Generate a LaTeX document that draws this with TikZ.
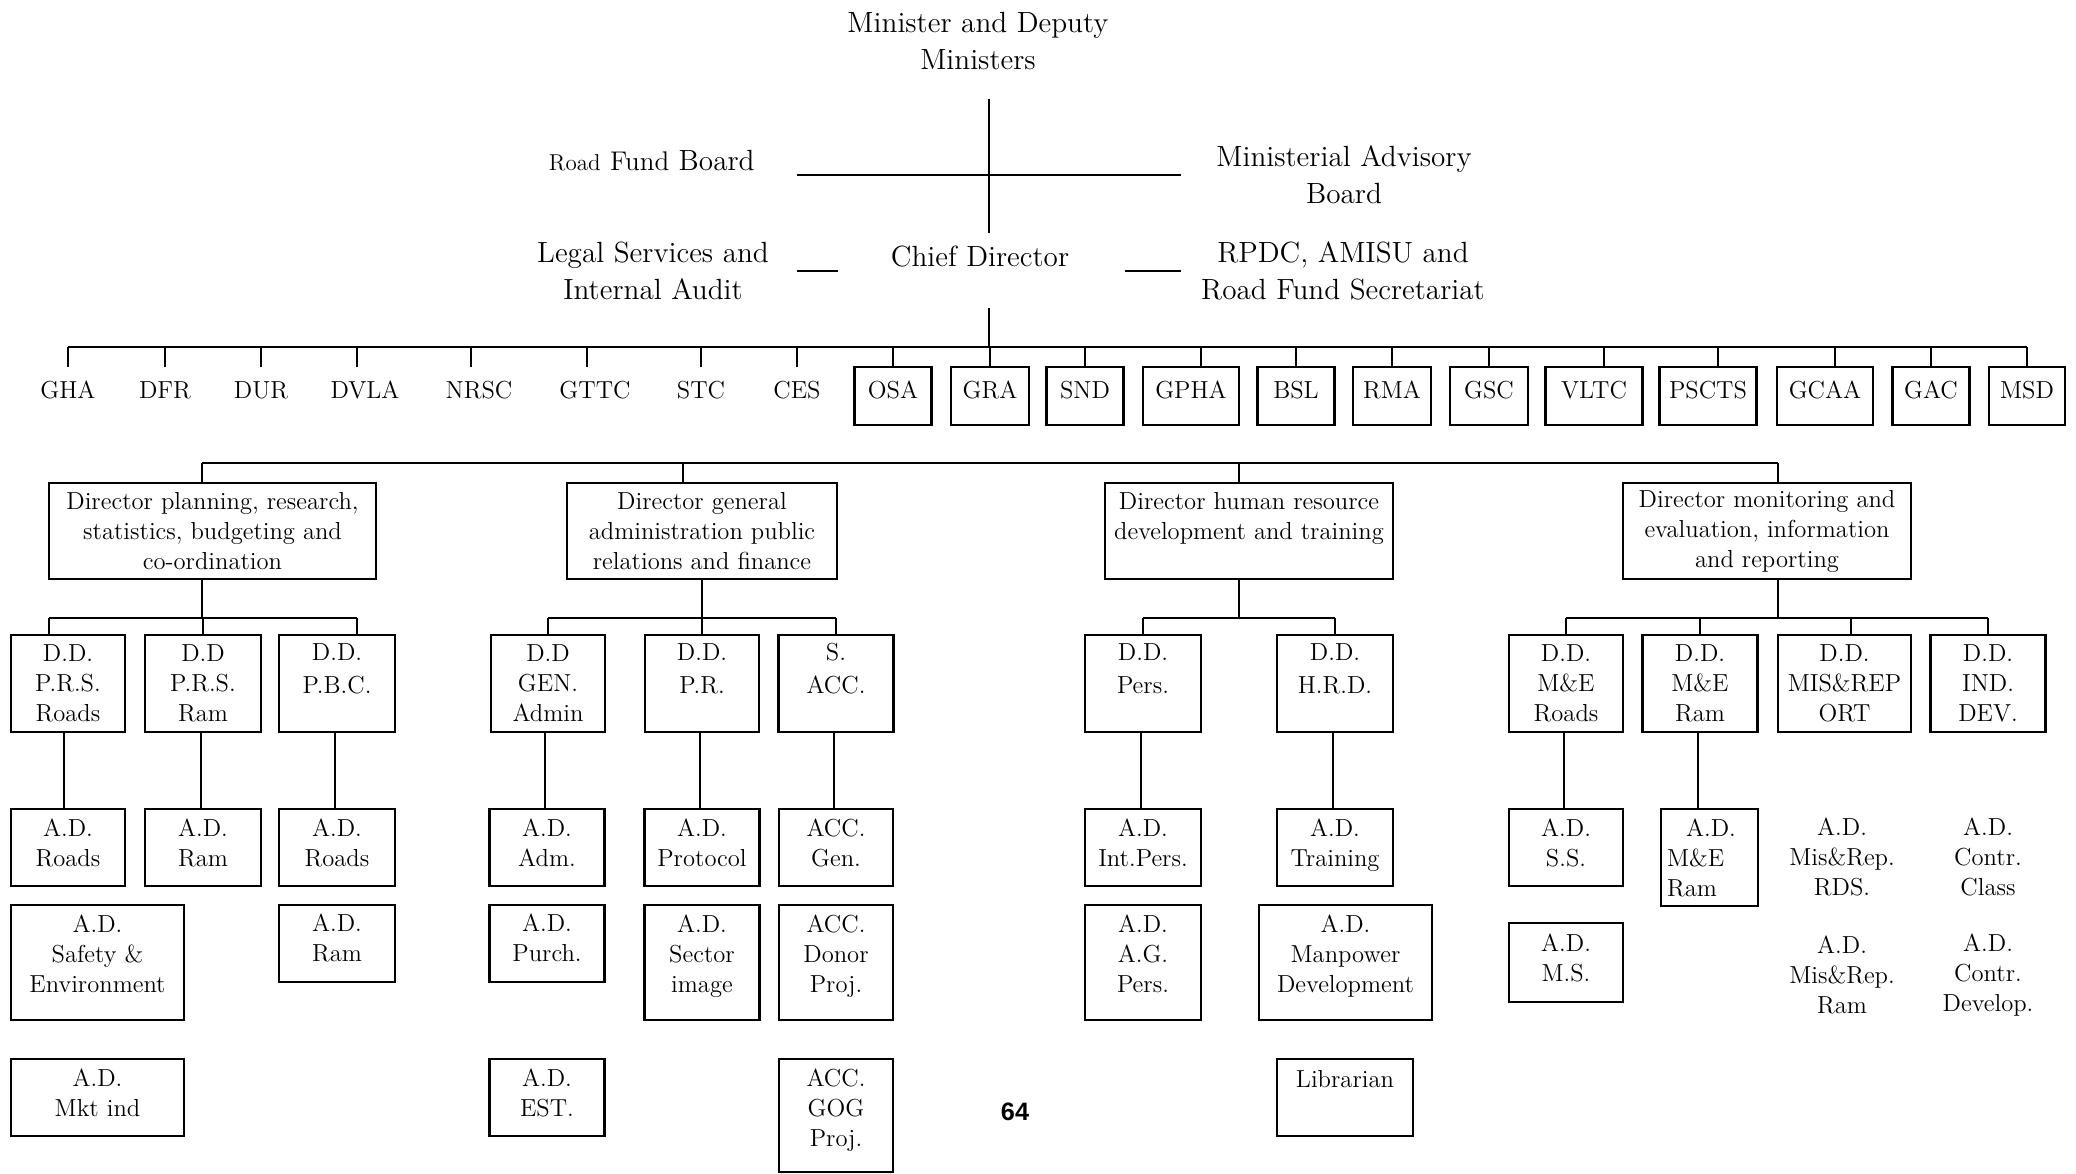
\documentclass[tikz,border=0pt]{standalone}
\usepackage{fontspec}
\newfontfamily\pgnumfont{Liberation Sans}
\begin{document}
\begin{tikzpicture}[x=0.5pt,y=-0.5pt,
  conn/.style={line width=1pt},
  bx/.style={draw, line width=1.05pt, inner sep=0pt, align=center, font=\fontsize{12.3}{15}\selectfont},
  lbl/.style={inner sep=0pt, align=center, font=\fontsize{12.3}{15}\selectfont},
  big/.style={inner sep=0pt, align=center, font=\fontsize{14.6}{18.5}\selectfont},
  rowone/.style={minimum height=29pt, text height=8.5pt, text depth=6pt},
  lift/.style={text depth=#1},
]
\fill[white] (0,0) rectangle (2076,1173);
\useasboundingbox (0,0) rectangle (2076,1173);

% ---------- top ----------
\node[big] (min) at (978,41) {Minister and Deputy\\Ministers};
\node[big, anchor=base east] (rfb) at (755,170) {{\fontsize{11.5}{14}\selectfont Road} {\fontsize{13.5}{16}\selectfont Fund} Board};
\node[big] (mab) at (1344,175) {Ministerial Advisory\\Board};
\node[big] (lsa) at (653,271) {Legal Services and\\Internal Audit};
\node[big] (cd) at (980,257) {Chief Director};
\node[big] (rpdc) at (1343,271) {RPDC, AMISU and\\Road Fund Secretariat};

\coordinate (vt) at (989,99);
\coordinate (vb) at (989,233);
\coordinate (hl) at (797,175);
\coordinate (hr) at (1181,175);
\coordinate (sl1) at (797,271);
\coordinate (sl2) at (838,271);
\coordinate (sr1) at (1125,271);
\coordinate (sr2) at (1181,271);
\coordinate (cdb) at (989,308);
\coordinate (bus1) at (0,347);
\coordinate (bus2) at (0,463);
\coordinate (sub) at (0,618);

\draw[conn] (vt) -- (vb);
\draw[conn] (hl) -- (hr);
\draw[conn] (sl1) -- (sl2);
\draw[conn] (sr1) -- (sr2);
\draw[conn] (cdb) -- (cdb |- bus1);

% ---------- row 1 ----------
\node[lbl, rowone] (gha) at (68,396) {GHA};
\node[lbl, rowone] (dfr) at (165,396) {DFR};
\node[lbl, rowone] (dur) at (261,396) {DUR};
\node[lbl, rowone] (dvla) at (365,396) {DVLA};
\node[lbl, rowone] (nrsc) at (479,396) {NRSC};
\node[lbl, rowone] (gttc) at (595,396) {GTTC};
\node[lbl, rowone] (stc) at (701,396) {STC};
\node[lbl, rowone] (ces) at (797,396) {CES};
\node[bx, rowone, minimum width=38.5pt] (osa) at (893,396) {OSA};
\node[bx, rowone, minimum width=39pt] (gra) at (990,396) {GRA};
\node[bx, rowone, minimum width=38.5pt] (snd) at (1085,396) {SND};
\node[bx, rowone, minimum width=48pt] (gpha) at (1191,396) {GPHA};
\node[bx, rowone, minimum width=38.5pt] (bsl) at (1296,396) {BSL};
\node[bx, rowone, minimum width=39pt] (rma) at (1392,396) {RMA};
\node[bx, rowone, minimum width=39pt] (gsc) at (1489,396) {GSC};
\node[bx, rowone, minimum width=48.5pt] (vltc) at (1594,396) {VLTC};
\node[bx, rowone, minimum width=48.5pt] (pscts) at (1708,396) {PSCTS};
\node[bx, rowone, minimum width=48pt] (gcaa) at (1825,396) {GCAA};
\node[bx, rowone, minimum width=38.5pt] (gac) at (1931,396) {GAC};
\node[bx, rowone, minimum width=38pt] (msd) at (2027,396) {MSD};

\draw[conn] (gha.north |- bus1) -- (msd.north |- bus1);
\foreach \n in {gha,dfr,dur,stc,ces,osa,gra,snd,bsl,rma,gsc,gac,msd}
  \draw[conn] (\n.north) -- (\n.north |- bus1);
\foreach \n in {dvla,nrsc,gttc}
  \draw[conn] ([xshift=-4pt]\n.north) -- ([xshift=-4pt]\n.north |- bus1);
\foreach \n in {gpha,vltc,pscts,gcaa}
  \draw[conn] ([xshift=5pt]\n.north) -- ([xshift=5pt]\n.north |- bus1);

% ---------- directors ----------
\node[bx, minimum width=163.5pt, minimum height=48pt] (d1) at (212.5,531) {Director planning, research,\\statistics, budgeting and\\co-ordination};
\node[bx, minimum width=135pt, minimum height=48pt] (d2) at (702,531) {Director general\\administration public\\relations and finance};
\node[bx, minimum width=144pt, minimum height=48pt] (d3) at (1249,531) {Director human resource\\development and training\\\mbox{}};
\node[bx, minimum width=144pt, minimum height=48pt] (d4) at (1767,531) {Director monitoring and\\evaluation, information\\and reporting};

\draw[conn] ([xshift=-5.25pt]d1.north |- bus2) -- ([xshift=5.5pt]d4.north |- bus2);
\draw[conn] ([xshift=-5.25pt]d1.north) -- ([xshift=-5.25pt]d1.north |- bus2);
\draw[conn] ([xshift=-9.5pt]d2.north) -- ([xshift=-9.5pt]d2.north |- bus2);
\draw[conn] ([xshift=-5pt]d3.north) -- ([xshift=-5pt]d3.north |- bus2);
\draw[conn] ([xshift=5.5pt]d4.north) -- ([xshift=5.5pt]d4.north |- bus2);

% ---------- deputy directors ----------
\node[bx, minimum width=57pt, minimum height=48.5pt] (dd11) at (68,683.5) {D.D.\\P.R.S.\\Roads};
\node[bx, minimum width=58pt, minimum height=48.5pt] (dd12) at (203,683.5) {D.D\\P.R.S.\\Ram};
\node[bx, minimum width=58pt, minimum height=48.5pt] (dd13) at (337,683.5) {D.D.\\[1.5pt]P.B.C.\\\mbox{}};
\node[bx, minimum width=57pt, minimum height=48.5pt] (dd21) at (548,683.5) {D.D\\GEN.\\Admin};
\node[bx, minimum width=57pt, minimum height=48.5pt] (dd22) at (702,683.5) {D.D.\\[1.5pt]P.R.\\\mbox{}};
\node[bx, minimum width=57.5pt, minimum height=48.5pt] (dd23) at (836,683.5) {S.\\[1.5pt]ACC.\\\mbox{}};
\node[bx, minimum width=58pt, minimum height=48.5pt] (dd31) at (1143,683.5) {D.D.\\[1.5pt]Pers.\\\mbox{}};
\node[bx, minimum width=58pt, minimum height=48.5pt] (dd32) at (1335,683.5) {D.D.\\[1.5pt]H.R.D.\\\mbox{}};
\node[bx, minimum width=57pt, minimum height=48.5pt] (dd41) at (1566,683.5) {D.D.\\M\&E\\Roads};
\node[bx, minimum width=57.5pt, minimum height=48.5pt] (dd42) at (1700,683.5) {D.D.\\M\&E\\Ram};
\node[bx, minimum width=66.5pt, minimum height=48.5pt] (dd43) at (1844.5,683.5) {D.D.\\MIS\&REP\\ORT};
\node[bx, minimum width=57.5pt, minimum height=48.5pt] (dd44) at (1988,683.5) {D.D.\\IND.\\DEV.};

% group 1
\draw[conn] ([xshift=-5.25pt]d1.south) -- ([xshift=-5.25pt]d1.south |- sub);
\draw[conn] ([xshift=-9.5pt]dd11.north |- sub) -- ([xshift=10pt]dd13.north |- sub);
\draw[conn] ([xshift=-9.5pt]dd11.north) -- ([xshift=-9.5pt]dd11.north |- sub);
\draw[conn] (dd12.north) -- (dd12.north |- sub);
\draw[conn] ([xshift=10pt]dd13.north) -- ([xshift=10pt]dd13.north |- sub);
% group 2
\draw[conn] (d2.south) -- (d2.south |- sub);
\draw[conn] (dd21.north |- sub) -- (dd23.north |- sub);
\foreach \n in {dd21,dd22,dd23} \draw[conn] (\n.north) -- (\n.north |- sub);
% group 3
\draw[conn] ([xshift=-5pt]d3.south) -- ([xshift=-5pt]d3.south |- sub);
\draw[conn] (dd31.north |- sub) -- (dd32.north |- sub);
\foreach \n in {dd31,dd32} \draw[conn] (\n.north) -- (\n.north |- sub);
% group 4
\draw[conn] ([xshift=5.5pt]d4.south) -- ([xshift=5.5pt]d4.south |- sub);
\draw[conn] (dd41.north |- sub) -- (dd44.north |- sub);
\foreach \n in {dd41,dd42,dd44} \draw[conn] (\n.north) -- (\n.north |- sub);
\draw[conn] ([xshift=3.25pt]dd43.north) -- ([xshift=3.25pt]dd43.north |- sub);

% ---------- assistant directors, row 4 ----------
\node[bx, lift=4.5pt, minimum width=57pt, minimum height=38.5pt] (ad11) at (68,847.5) {A.D.\\Roads};
\node[bx, lift=4.5pt, minimum width=58pt, minimum height=38.5pt] (ad12) at (203,847.5) {A.D.\\Ram};
\node[bx, lift=4.5pt, minimum width=58pt, minimum height=38.5pt] (ad13) at (337,847.5) {A.D.\\Roads};
\node[bx, lift=4.5pt, minimum width=57.5pt, minimum height=38.5pt] (ad21) at (547,847.5) {A.D.\\Adm.};
\node[bx, lift=4.5pt, minimum width=57.5pt, minimum height=38.5pt] (ad22) at (702,847.5) {A.D.\\Protocol};
\node[bx, lift=4.5pt, minimum width=57pt, minimum height=38.5pt] (ad23) at (836,847.5) {ACC.\\Gen.};
\node[bx, lift=4.5pt, minimum width=58pt, minimum height=38.5pt] (ad31) at (1143,847.5) {A.D.\\Int.Pers.};
\node[bx, lift=4.5pt, minimum width=58pt, minimum height=38.5pt] (ad32) at (1335,847.5) {A.D.\\Training};
\node[bx, lift=4.5pt, minimum width=57pt, minimum height=38.5pt] (ad41) at (1566,847.5) {A.D.\\S.S.};
\node[bx, minimum width=48.5pt, minimum height=48.5pt, align=left, text width=42.5pt, inner xsep=3pt] (ad42) at (1709.5,857.5) {\hspace*{9.5pt}A.D.\\M\&E\\Ram};
\node[lbl] (u1) at (1842,857) {A.D.\\Mis\&Rep.\\RDS.};
\node[lbl] (u2) at (1988,857) {A.D.\\Contr.\\Class};

\draw[conn] ([xshift=-2pt]ad11.north) -- ([xshift=-2pt]ad11.north |- dd11.south);
\foreach \a/\d in {ad12/dd12,ad13/dd13,ad21/dd21,ad22/dd22,ad23/dd23,ad31/dd31,ad32/dd32,ad41/dd41}
  \draw[conn] ([xshift=-1pt]\a.north) -- ([xshift=-1pt]\a.north |- \d.south);
\draw[conn] ([xshift=-5.75pt]ad42.north) -- ([xshift=-5.75pt]ad42.north |- dd42.south);

% ---------- row 5 ----------
\node[bx, lift=8.5pt, minimum width=86.5pt, minimum height=57.5pt] (ae11) at (97.5,962.5) {A.D.\\Safety \&\\Environment};
\node[bx, lift=5.5pt, minimum width=58pt, minimum height=38.5pt] (ae13) at (337,943.5) {A.D.\\Ram};
\node[bx, lift=5.5pt, minimum width=57.5pt, minimum height=38.5pt] (ae21) at (547,943.5) {A.D.\\Purch.};
\node[bx, lift=8.5pt, minimum width=57.5pt, minimum height=57.5pt] (ae22) at (702,962.5) {A.D.\\Sector\\image};
\node[bx, lift=8.5pt, minimum width=57pt, minimum height=57.5pt] (ae23) at (836,962.5) {ACC.\\Donor\\Proj.};
\node[bx, lift=8.5pt, minimum width=58pt, minimum height=57.5pt] (ae31) at (1143,962.5) {A.D.\\A.G.\\Pers.};
\node[bx, lift=8.5pt, minimum width=86.5pt, minimum height=57.5pt] (ae32) at (1345.5,962.5) {A.D.\\Manpower\\Development};
\node[bx, lift=4.5pt, minimum width=57pt, minimum height=39.5pt] (ae41) at (1566,962.5) {A.D.\\M.S.};
\node[lbl] (u3) at (1842,975) {A.D.\\Mis\&Rep.\\Ram};
\node[lbl] (u4) at (1988,975) {A.D.\\Contr.\\Develop.};

% ---------- row 6 ----------
\node[bx, lift=4.5pt, minimum width=86.5pt, minimum height=38.5pt] (af11) at (97.5,1097.5) {A.D.\\Mkt ind};
\node[bx, lift=4.5pt, minimum width=57.5pt, minimum height=38.5pt] (af21) at (547,1097.5) {A.D.\\EST.};
\node[bx, minimum width=57pt, minimum height=56.5pt] (af23) at (836,1115.5) {ACC.\\GOG\\Proj.\\[-7pt]\mbox{}};
\node[bx, minimum width=68pt, minimum height=38.5pt] (af32) at (1345,1097.5) {Librarian\\[4pt]\mbox{}};

\node[inner sep=0pt, font={\pgnumfont\bfseries\fontsize{12.6}{15}\selectfont}] (pg) at (1015,1112) {64};
\end{tikzpicture}
\end{document}
